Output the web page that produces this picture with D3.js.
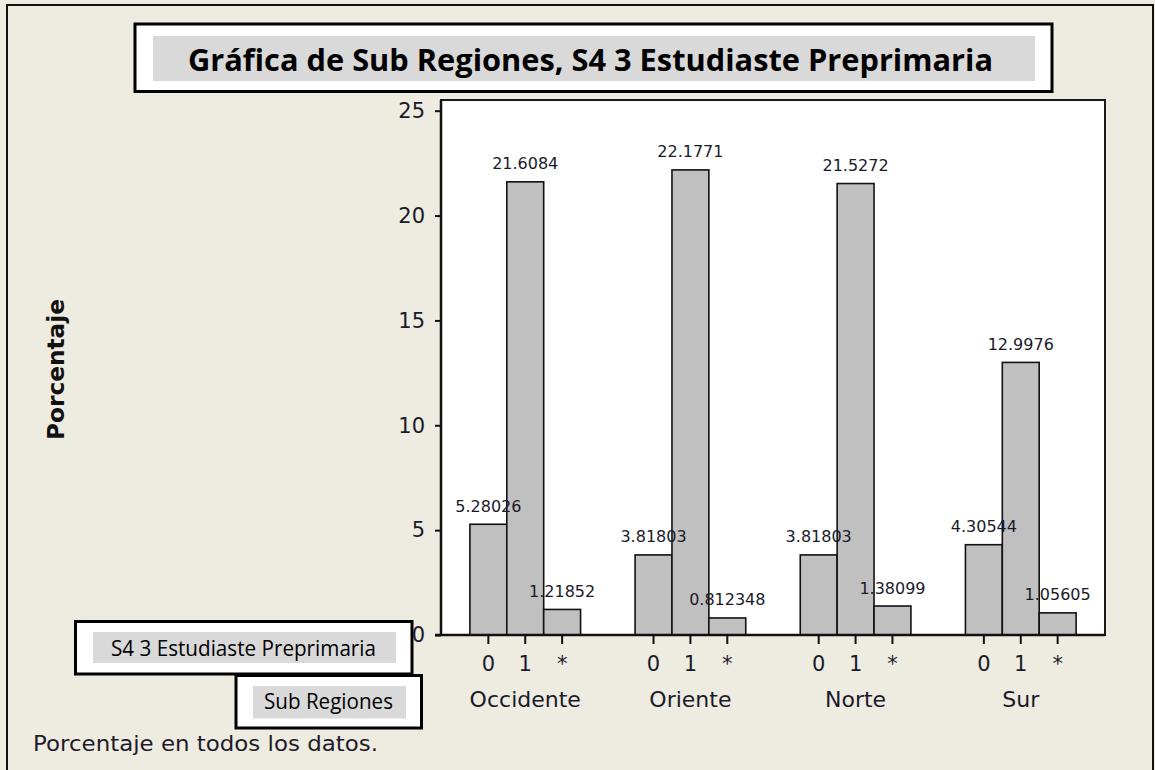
<!DOCTYPE html>
<html>
<head>
<meta charset="utf-8">
<script src="https://cdn.jsdelivr.net/npm/d3@7"></script>
<style>
  html, body { margin: 0; padding: 0; background: #EEEBE1; }
  svg { display: block; }
</style>
</head>
<body>
<svg id="chart" width="1155" height="770"></svg>
<script>
// ---- data ----
const regions = ["Occidente", "Oriente", "Norte", "Sur"];
const categories = ["0", "1", "*"];
const values0 = [5.28026, 3.81803, 3.81803, 4.30544];
const values1 = [21.6084, 22.1771, 21.5272, 12.9976];
const valuesMissing = [1.21852, 0.812348, 1.38099, 1.05605];
const yTicks = [0, 5, 10, 15, 20, 25];
const titleText = "Gráfica de Sub Regiones, S4 3 Estudiaste Preprimaria";
const yLabel = "Porcentaje";
const legendVar = "S4 3 Estudiaste Preprimaria";
const legendGroup = "Sub Regiones";
const footnote = "Porcentaje en todos los datos.";

const rows = [];
regions.forEach((r, i) => {
  [values0[i], values1[i], valuesMissing[i]].forEach((v, j) => {
    rows.push({ region: r, cat: categories[j], value: v });
  });
});

const svg = d3.select("#chart");

// background and outer border
svg.append("rect").attr("x", 0).attr("y", 0).attr("width", 1155).attr("height", 770).attr("fill", "#EEEBE1");
svg.append("path").attr("d", "M7,772 V5 H1153 V772")
  .attr("fill", "none").attr("stroke", "#111").attr("stroke-width", 2);

// plot geometry
const pL = 441, pR = 1105, pT = 100, pB = 635;

const x0 = d3.scaleBand().domain(regions).range([pL, pR])
  .paddingInner(0.33).paddingOuter(0.175);
const x1 = d3.scaleBand().domain(categories).range([0, x0.bandwidth()]).padding(0);
const y = d3.scaleLinear().domain([0, 25]).range([pB, 110.7]);

// frame
svg.append("rect").attr("x", pL).attr("y", pT)
  .attr("width", pR - pL).attr("height", pB - pT)
  .attr("fill", "#fff").attr("stroke", "#1a1a1a").attr("stroke-width", 2);

// bars
const groups = svg.append("g").selectAll("g").data(regions).join("g")
  .attr("transform", d => `translate(${x0(d)},0)`);

groups.selectAll("rect")
  .data(r => rows.filter(d => d.region === r))
  .join("rect")
  .attr("x", d => x1(d.cat))
  .attr("y", d => y(d.value))
  .attr("width", x1.bandwidth())
  .attr("height", d => y(0) - y(d.value))
  .attr("fill", "#C0C0C0")
  .attr("stroke", "#111")
  .attr("stroke-width", 1.6);

groups.selectAll("text.val")
  .data(r => rows.filter(d => d.region === r))
  .join("text")
  .attr("class", "val")
  .attr("x", d => x1(d.cat) + x1.bandwidth() / 2)
  .attr("y", d => y(d.value) - 12.5)
  .attr("text-anchor", "middle")
  .attr("font-family", "DejaVu Sans, sans-serif")
  .attr("font-size", 16)
  .attr("fill", "#1a1a2a")
  .text(d => String(d.value));

// y axis
const yAxis = svg.append("g").attr("transform", `translate(${pL},0)`)
  .call(d3.axisLeft(y).tickValues(yTicks).tickSize(6).tickPadding(10).tickSizeOuter(0));
yAxis.select(".domain").remove();
yAxis.selectAll("line").attr("stroke", "#111").attr("stroke-width", 2);
yAxis.selectAll("text").attr("font-family", "DejaVu Sans, sans-serif")
  .attr("font-size", 21).attr("fill", "#1a1a2a");
svg.append("line").attr("x1", pL).attr("x2", pL).attr("y1", pT).attr("y2", pB + 1)
  .attr("stroke", "#111").attr("stroke-width", 2.5);
svg.append("line").attr("x1", pL - 6).attr("x2", pR).attr("y1", pB).attr("y2", pB)
  .attr("stroke", "#111").attr("stroke-width", 2.5);

// x axes (per region)
regions.forEach(r => {
  const g = svg.append("g").attr("transform", `translate(${x0(r)},${pB})`)
    .call(d3.axisBottom(x1).tickSize(9).tickSizeOuter(0));
  g.select(".domain").remove();
  g.selectAll("line").attr("stroke", "#111").attr("stroke-width", 2);
  g.selectAll("text").attr("y", 35.7).attr("dy", 0)
    .attr("font-family", "DejaVu Sans, sans-serif")
    .attr("font-size", 21).attr("fill", "#1a1a2a");
  g.append("text").attr("x", x0.bandwidth() / 2).attr("y", 72)
    .attr("text-anchor", "middle")
    .attr("font-family", "DejaVu Sans, sans-serif")
    .attr("font-size", 22).attr("fill", "#1a1a2a")
    .text(r);
});

// y label
svg.append("text")
  .attr("transform", "translate(63.5,369.5) rotate(-90)")
  .attr("text-anchor", "middle")
  .attr("font-family", "DejaVu Sans, sans-serif")
  .attr("font-weight", "bold")
  .attr("font-size", 23)
  .attr("textLength", 141)
  .attr("lengthAdjust", "spacingAndGlyphs")
  .attr("fill", "#111")
  .text(yLabel);

// title box
svg.append("rect").attr("x", 135).attr("y", 24).attr("width", 917).attr("height", 67.5)
  .attr("fill", "#fff").attr("stroke", "#000").attr("stroke-width", 3);
svg.append("rect").attr("x", 153).attr("y", 36).attr("width", 882).attr("height", 45)
  .attr("fill", "#D9D9D9");
svg.append("text").attr("x", 188).attr("y", 71)
  .attr("font-family", "Open Sans, sans-serif").attr("font-weight", "bold")
  .attr("font-size", 31).attr("textLength", 805).attr("lengthAdjust", "spacingAndGlyphs")
  .attr("fill", "#000").text(titleText);

// legend boxes
svg.append("rect").attr("x", 75.5).attr("y", 621.5).attr("width", 336.5).attr("height", 52.5)
  .attr("fill", "#fff").attr("stroke", "#000").attr("stroke-width", 3);
svg.append("rect").attr("x", 93).attr("y", 632).attr("width", 303).attr("height", 31)
  .attr("fill", "#D9D9D9");
svg.append("text").attr("x", 111).attr("y", 655.5)
  .attr("font-family", "Open Sans, sans-serif").attr("font-size", 22)
  .attr("textLength", 265).attr("lengthAdjust", "spacingAndGlyphs")
  .attr("fill", "#000").text(legendVar);

svg.append("rect").attr("x", 236).attr("y", 675.5).attr("width", 185.5).attr("height", 52.5)
  .attr("fill", "#fff").attr("stroke", "#000").attr("stroke-width", 3);
svg.append("rect").attr("x", 253).attr("y", 686).attr("width", 153).attr("height", 32.5)
  .attr("fill", "#D9D9D9");
svg.append("text").attr("x", 264).attr("y", 709.3)
  .attr("font-family", "Open Sans, sans-serif").attr("font-size", 22)
  .attr("textLength", 129).attr("lengthAdjust", "spacingAndGlyphs")
  .attr("fill", "#000").text(legendGroup);

// footnote
svg.append("text").attr("x", 33).attr("y", 750.7)
  .attr("font-family", "DejaVu Sans, sans-serif").attr("font-size", 22)
  .attr("textLength", 345).attr("lengthAdjust", "spacingAndGlyphs")
  .attr("fill", "#1e1a2a").text(footnote);
</script>
</body>
</html>
